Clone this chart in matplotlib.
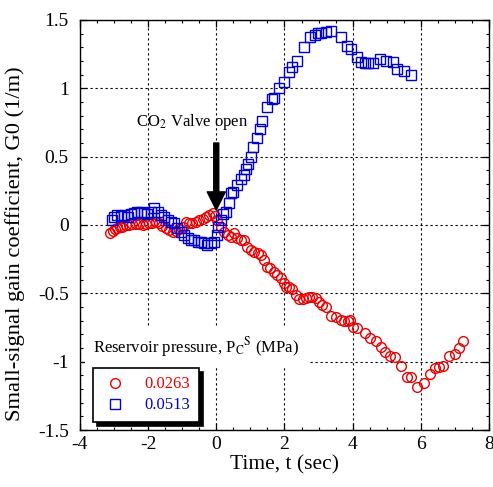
import numpy as np
import matplotlib
matplotlib.use("Agg")
import matplotlib.pyplot as plt
from matplotlib.ticker import MultipleLocator, FuncFormatter

plt.rcParams["font.family"] = ["Liberation Serif", "DejaVu Serif"]
plt.rcParams["mathtext.fontset"] = "stix"
plt.rcParams["axes.unicode_minus"] = False

# reservoir pressure 0.0263 MPa (red circles)
t_263 = [-3.12, -3.04, -2.98, -2.90, -2.83, -2.75, -2.65, -2.57, -2.46, -2.36,
         -2.27, -2.16, -2.07, -1.98, -1.87, -1.77, -1.69, -1.58, -1.48, -1.39,
         -1.28, -1.19, -1.10, -0.99, -0.89, -0.81, -0.70, -0.60, -0.51, -0.40,
         -0.31, -0.22, -0.11, -0.04, 0.03, 0.13, 0.23, 0.33, 0.43, 0.52,
         0.62, 0.72, 0.82, 0.91, 1.01, 1.11, 1.21, 1.30, 1.40, 1.48,
         1.58, 1.70, 1.79, 1.89, 1.98, 2.04, 2.13, 2.23, 2.33, 2.43,
         2.53, 2.62, 2.72, 2.82, 2.92, 3.01, 3.11, 3.23, 3.36, 3.50,
         3.65, 3.75, 3.85, 3.92, 4.02, 4.14, 4.35, 4.51, 4.68, 4.82,
         4.95, 5.10, 5.24, 5.41, 5.58, 5.72, 5.90, 6.08, 6.26, 6.42,
         6.53, 6.66, 6.83, 6.99, 7.12, 7.25]
g_263 = [-0.056, -0.042, -0.029, -0.022, -0.015, -0.012, 0.000, 0.002, 0.005, 0.007,
         0.005, 0.000, 0.007, 0.012, 0.017, 0.022, 0.012, -0.007, -0.024, -0.037,
         -0.049, -0.042, -0.031, -0.015, 0.024, 0.012, 0.012, 0.024, 0.037, 0.042,
         0.061, 0.073, 0.086, 0.066, 0.037, -0.012, -0.049, -0.073, -0.086, -0.061,
         -0.097, -0.110, -0.110, -0.159, -0.183, -0.195, -0.207, -0.219, -0.256, -0.305,
         -0.317, -0.342, -0.366, -0.390, -0.424, -0.451, -0.456, -0.468, -0.512, -0.541,
         -0.538, -0.536, -0.529, -0.524, -0.534, -0.561, -0.585, -0.602, -0.663, -0.671,
         -0.695, -0.702, -0.702, -0.695, -0.744, -0.756, -0.792, -0.824, -0.849, -0.895,
         -0.931, -0.956, -0.963, -1.029, -1.114, -1.114, -1.187, -1.158, -1.090, -1.048,
         -1.037, -1.029, -0.956, -0.944, -0.898, -0.849]

# reservoir pressure 0.0513 MPa (blue squares)
t_513 = [-3.05, -3.00, -2.90, -2.80, -2.70, -2.60, -2.51, -2.41, -2.31, -2.21,
         -2.12, -2.02, -1.92, -1.82, -1.72, -1.63, -1.53, -1.43, -1.33, -1.24,
         -1.14, -1.04, -0.94, -0.84, -0.75, -0.65, -0.55, -0.45, -0.36, -0.26,
         -0.16, -0.06, 0.01, 0.06, 0.13, 0.21, 0.28, 0.38, 0.43, 0.50,
         0.62, 0.72, 0.82, 0.87, 0.93, 1.01, 1.09, 1.19, 1.28, 1.35,
         1.50, 1.62, 1.70, 1.84, 1.99, 2.13, 2.23, 2.36, 2.57, 2.75,
         2.89, 2.97, 3.06, 3.21, 3.36, 3.65, 3.83, 3.96, 4.14, 4.24,
         4.35, 4.46, 4.59, 4.80, 4.97, 5.17, 5.31, 5.51, 5.70]
g_513 = [0.040, 0.061, 0.073, 0.066, 0.073, 0.061, 0.080, 0.086, 0.097, 0.097,
         0.090, 0.080, 0.097, 0.122, 0.097, 0.073, 0.061, 0.037, 0.024, 0.012,
         -0.024, -0.049, -0.073, -0.097, -0.110, -0.110, -0.122, -0.122, -0.134, -0.146,
         -0.134, -0.122, -0.073, -0.012, 0.037, 0.080, 0.097, 0.159, 0.232, 0.244,
         0.293, 0.334, 0.366, 0.407, 0.446, 0.500, 0.573, 0.634, 0.702, 0.761,
         0.861, 0.920, 0.931, 1.000, 1.048, 1.121, 1.158, 1.202, 1.304, 1.373,
         1.390, 1.402, 1.407, 1.414, 1.419, 1.373, 1.312, 1.285, 1.227, 1.195,
         1.187, 1.183, 1.183, 1.212, 1.202, 1.195, 1.139, 1.127, 1.095]

red = "#ee0000"
blue = "#0000dd"

fig = plt.figure(figsize=(4.93, 4.87), dpi=100)
ax = fig.add_axes([0.162, 0.117, 0.830, 0.842])

ax.plot(t_263, g_263, linestyle="none", marker="o", ms=7, mfc="none",
        mec=red, mew=1.0, label="0.0263")
ax.plot(t_513, g_513, linestyle="none", marker="s", ms=7, mfc="none",
        mec=blue, mew=1.0, label="0.0513")

ax.set_xlim(-4, 8)
ax.set_ylim(-1.5, 1.5)
ax.xaxis.set_major_locator(MultipleLocator(2))
ax.xaxis.set_minor_locator(MultipleLocator(0.5))
ax.yaxis.set_major_locator(MultipleLocator(0.5))
ax.yaxis.set_minor_locator(MultipleLocator(0.1))
fmt = FuncFormatter(lambda v, p: "%g" % v)
ax.xaxis.set_major_formatter(fmt)
ax.yaxis.set_major_formatter(fmt)
ax.tick_params(which="both", direction="in", top=True, right=True, labelsize=14)
ax.tick_params(which="major", length=5, width=0.9)
ax.tick_params(which="minor", length=2.5, width=0.8)
ax.tick_params(axis="x", pad=4)
ax.tick_params(axis="y", pad=8)
for s in ax.spines.values():
    s.set_linewidth(1.0)

ax.set_axisbelow(True)
ax.grid(True, which="major", color="k", linestyle=(0, (2, 2.5)), linewidth=0.8)

ax.set_xlabel("Time, t (sec)", fontsize=15.5, labelpad=2)
ax.set_ylabel("Small-signal gain coefficient, G0 (1/m)", fontsize=16.2)
ax.yaxis.set_label_coords(-0.134, 0.455)

ax.annotate("", xy=(0.0, 0.11), xytext=(0.0, 0.60),
            arrowprops=dict(facecolor="k", edgecolor="k", width=3.6,
                            headwidth=13, headlength=13, shrink=0))
ax.text(-0.7, 0.757, "CO$_\\mathrm{2}$ Valve open", fontsize=12, ha="center", va="center")

ax.text(-3.61, -0.896, "Reservoir pressure, P$_\\mathrm{C}$$^\\mathrm{S}$ (MPa)", fontsize=12,
        ha="left", va="center", zorder=3,
        bbox=dict(facecolor="white", edgecolor="none", pad=6))

leg = ax.legend(loc="upper left", bbox_to_anchor=(0.032, 0.151), borderaxespad=0,
                fontsize=12, fancybox=False,
                edgecolor="k", framealpha=1, handlelength=1.6, handletextpad=1.0,
                borderpad=0.5, labelspacing=0.3,
                shadow={"ox": 3, "oy": -3, "facecolor": "k", "edgecolor": "k", "alpha": 1})
leg.get_frame().set_linewidth(1.2)
for txt, c in zip(leg.get_texts(), [red, blue]):
    txt.set_color(c)

fig.savefig("out.png", dpi=100)
